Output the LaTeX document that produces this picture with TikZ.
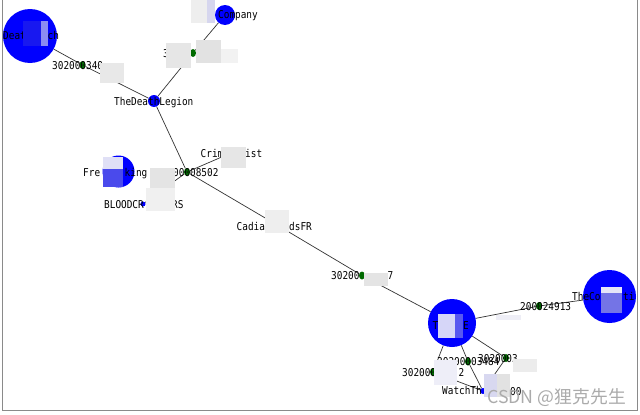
\documentclass[tikz,border=0pt]{standalone}
\usepackage{fontspec}
\usetikzlibrary{shapes.geometric}
\newfontfamily\monofont[FakeStretch=0.87]{DejaVu Sans Mono}
\newfontfamily\cjkfont{Noto Sans CJK SC}
\pgfdeclarelayer{bg}
\pgfsetlayers{bg,main}
\definecolor{nblue}{HTML}{0000FF}
\definecolor{ngreen}{HTML}{006A00}
\definecolor{edgec}{HTML}{333333}
\definecolor{framec}{HTML}{8A8A8A}
\definecolor{wmc}{HTML}{ABABAB}
\tikzset{
  bluenode/.style={circle, fill=nblue, draw=none, inner sep=0pt},
  greennode/.style={ellipse, fill=ngreen, draw=none, inner sep=0pt, minimum width=6pt, minimum height=8pt},
  lbl/.style={anchor=base west, inner sep=0pt, font=\monofont\fontsize{10.8}{11}\selectfont, text=black},
  edge/.style={draw=edgec, line width=0.7pt},
}
\begin{document}
\begin{tikzpicture}[x=1pt,y=-1pt]
\useasboundingbox (0,0) rectangle (640,415);
\begin{pgfonlayer}{bg}
\fill[white] (0,0) rectangle (640,415);
\end{pgfonlayer}
% blue nodes
\node[bluenode, minimum size=54pt] (A) at (30,36) {};
\node[bluenode, minimum size=20pt] (B) at (225,15) {};
\node[bluenode, minimum size=12pt] (C) at (154,101) {};
\node[bluenode, minimum size=32pt] (D) at (118.5,171.5) {};
\node[bluenode, minimum size=48pt] (E) at (452,323) {};
\node[bluenode, minimum size=53pt] (F) at (609.5,296.5) {};
\node[bluenode, minimum size=5pt] (BL) at (143,204) {};
\node[bluenode, minimum size=6pt] (W) at (483,391) {};
% green nodes
\node[greennode] (G1) at (82.5,65) {};
\node[greennode] (G2) at (193,53) {};
\node[greennode] (G3) at (187,172) {};
\node[greennode] (G4) at (362,275.5) {};
\node[greennode] (G5) at (539,306) {};
\node[greennode] (G6) at (468,361.5) {};
\node[greennode] (G7) at (506,358) {};
\node[greennode] (G8) at (433,372) {};
\coordinate (CR) at (231,153);
\coordinate (CA) at (272,222);
% edges
\begin{pgfonlayer}{bg}
\draw[edge] (A) -- (G1);
\draw[edge] (G1) -- (C);
\draw[edge] (B) -- (G2);
\draw[edge] (G2) -- (C);
\draw[edge] (C) -- (G3);
\draw[edge] (G3) -- (CR);
\draw[edge] (G3) -- (BL);
\draw[edge] (G3) -- (CA);
\draw[edge] (CA) -- (G4);
\draw[edge] (G4) -- (E);
\draw[edge] (E) -- (G5);
\draw[edge] (G5) -- (F);
\draw[edge] (E) -- (G8);
\draw[edge] (G8) -- (W);
\draw[edge] (E) -- (G6);
\draw[edge] (G6) -- (W);
\draw[edge] (E) -- (G7);
\draw[edge] (G7) -- (W);
\end{pgfonlayer}
% labels
\node[lbl] (l1) at (3,39) {Deat};
\node[lbl] (l2) at (47.5,39) {ch};
\node[lbl] (l3) at (52,69) {302000340};
\node[lbl] (l4) at (218,19) {Company};
\node[lbl] (l5) at (163,57) {3};
\node[lbl] (l6) at (114,105.5) {TheDeathLegion};
\node[lbl] (l7) at (200.5,157) {Crim};
\node[lbl] (l8) at (245,157) {ist};
\node[lbl] (l9) at (83,176) {Fre};
\node[lbl] (l10) at (124.5,176) {king};
\node[lbl] (l11) at (173,176) {00008502};
\node[lbl] (l12) at (104,208) {BLOODCR};
\node[lbl] (l13) at (172,208) {RS};
\node[lbl] (l14) at (236.5,230) {Cadia};
\node[lbl] (l15) at (289,230) {dsFR};
\node[lbl] (l16) at (331,279) {30200};
\node[lbl] (l17) at (387.5,279) {7};
\node[lbl] (l18) at (520,310) {200024913};
\node[lbl] (l19) at (572,300) {TheCo};
\node[lbl] (l20) at (623,300) {ti};
\node[lbl] (l21) at (432.5,329) {T};
\node[lbl] (l22) at (463,329) {E};
\node[lbl] (l23) at (437,365) {30200003484};
\node[lbl] (l24) at (478,362.5) {3020003};
\node[lbl] (l25) at (402,376) {302000};
\node[lbl] (l26) at (458.5,376) {2};
\node[lbl] (l27) at (442,394.5) {WatchTh};
\node[lbl] (l28) at (510,395) {00};
% mosaic masks
\fill[fill={rgb,255:red,24;green,24;blue,240}] (23,21) rectangle (41,46);
\fill[fill={rgb,255:red,140;green,140;blue,242}] (41,21) rectangle (48,46);
\fill[fill={rgb,255:red,238;green,238;blue,238}] (191,0) rectangle (207,23);
\fill[fill={rgb,255:red,214;green,214;blue,238}] (207,0) rectangle (215,23);
\fill[fill={rgb,255:red,232;green,232;blue,232}] (100,63) rectangle (124,83);
\fill[fill={rgb,255:red,230;green,230;blue,230}] (166,43) rectangle (191,68);
\fill[fill={rgb,255:red,226;green,226;blue,226}] (196,40) rectangle (221,63);
\fill[fill={rgb,255:red,242;green,242;blue,242}] (221,49) rectangle (238,63);
\fill[fill={rgb,255:red,230;green,230;blue,230}] (221,147) rectangle (246,168);
\fill[fill={rgb,255:red,224;green,224;blue,246}] (103,157) rectangle (123,169);
\fill[fill={rgb,255:red,74;green,74;blue,236}] (103,169) rectangle (123,187);
\fill[fill={rgb,255:red,228;green,228;blue,228}] (150,168) rectangle (175,190);
\fill[fill={rgb,255:red,240;green,240;blue,240}] (146,188) rectangle (175,211);
\fill[fill={rgb,255:red,238;green,238;blue,238}] (265,210) rectangle (289,233);
\fill[fill={rgb,255:red,228;green,228;blue,228}] (364,273) rectangle (388,286);
\fill[fill={rgb,255:red,214;green,214;blue,248}] (438,314) rectangle (455,338);
\fill[fill={rgb,255:red,88;green,88;blue,240}] (455,314) rectangle (463,338);
\fill[fill={rgb,255:red,238;green,238;blue,246}] (496,315) rectangle (521,320);
\fill[fill={rgb,255:red,230;green,230;blue,248}] (601,287) rectangle (622,293);
\fill[fill={rgb,255:red,116;green,116;blue,230}] (601,293) rectangle (622,313);
\fill[fill={rgb,255:red,236;green,236;blue,236}] (513,359) rectangle (537,372);
\fill[fill={rgb,255:red,238;green,238;blue,248}] (434,360) rectangle (457,385);
\fill[fill={rgb,255:red,216;green,216;blue,240}] (484,374) rectangle (497,397);
\fill[fill={rgb,255:red,226;green,226;blue,226}] (497,374) rectangle (510,397);
% watermark
\node[anchor=base west, inner sep=0pt, font=\cjkfont\fontsize{17.8}{18}\selectfont, text=wmc] (wm) at (487,403) {CSDN @狸克先生};
% frame
\draw[framec, line width=1pt] (2.5,-1) -- (2.5,410.5) -- (637.5,410.5) -- (637.5,-1);
\end{tikzpicture}
\end{document}
